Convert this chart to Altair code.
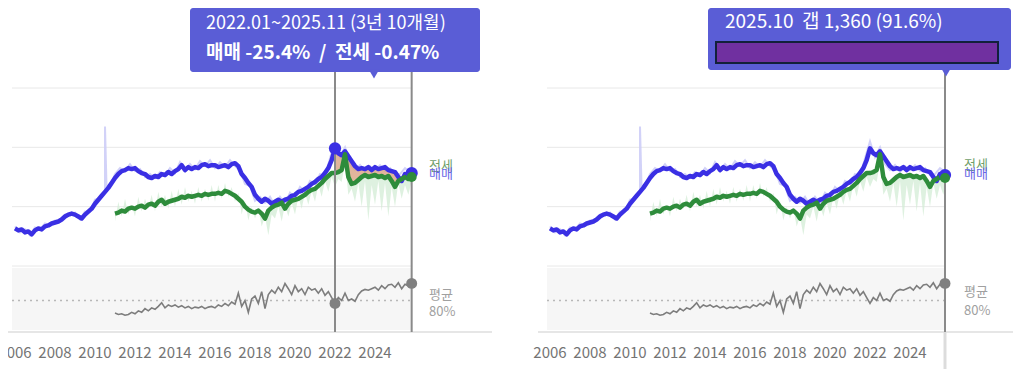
import altair as alt
import pandas as pd
import numpy as np

FONT = "Noto Sans CJK KR"

# ---------------- data ----------------
# bimonthly grid 2006.0 .. 2025.83 (last = 2025.11)
years = [round(2006 + i / 6, 4) for i in range(120)]

# 매매 (sale) index
blue_vals = [
    138, 136, 137, 134, 135, 132,
    136, 138, 137, 140, 141, 143,
    144, 145, 147, 150, 152, 153,
    152, 150, 148, 152, 155, 158,
    163, 167, 171, 175, 179, 184,
    189, 193, 196, 197, 199, 198,
    199, 196, 194, 193, 190, 189,
    191, 190, 193, 192, 195, 193,
    196, 198, 202, 197, 200, 198,
    200, 199, 202, 203, 201, 202,
    202, 200, 201, 202, 200, 203,
    204, 201, 193, 189, 184, 180,
    172, 168, 165, 168, 166, 163,
    165, 167, 165, 167, 168, 171,
    172, 175, 176, 178, 180, 183,
    185, 188, 190, 194, 199, 207,
    219, 214, 212, 216, 211, 206,
    201, 198, 199, 198, 200, 197,
    200, 198, 199, 200, 197, 196,
    195, 190, 186, 193, 190, 194,
]

# 전세 (jeonse) index from 2011.0
green_vals = [
    153, 154, 156, 155, 158, 159,
    158, 160, 161, 159, 162, 163,
    161, 165, 167, 163, 165, 166,
    167, 168, 170, 169, 171, 170,
    171, 172, 171, 173, 172, 173,
    173, 174, 173, 176, 175, 173,
    171, 168, 165, 160, 157, 155,
    154, 156, 153, 148, 156, 159,
    161, 162, 164, 158, 163, 166,
    167, 168, 170, 172, 175, 177,
    178, 181, 184, 188, 191, 194,
    194, 195, 197, 213, 190, 183,
    184, 187, 190, 192, 190, 191,
    192, 190, 191, 189, 191, 186,
    180, 186, 188, 190, 188, 190,
]

# light raw 매매 series (quarterly 2006.0..2025.75) and its spike
q_years = [2006 + 0.25 * i for i in range(80)]
blue_raw_vals = [
    140, 134, 137, 131,  139, 137, 143, 141,  146, 145, 152, 151,  154, 147, 155, 155,
    167, 168, 176, 180,  193, 199, 196, 203,  196, 198, 190, 193,  189, 195, 191, 199,
    194, 205, 196, 203,  198, 206, 201, 207,  199, 205, 200, 207,  201, 197, 183, 181,
    166, 170, 164, 170,  161, 170, 163, 174,  169, 180, 175, 186,  183, 193, 190, 209,
    226, 210, 220, 203,  197, 202, 195, 201,  197, 202, 196, 199,  192, 193, 199, 195,
]
spike_x = [2010.42, 2010.5, 2010.58]
spike_y = [172, 241, 177]

# light raw 전세 series (bimonthly from 2011.0)
green_raw_vals = [
    145, 165, 150, 168, 152, 162,
    150, 170, 155, 168, 158, 172,
    155, 175, 160, 172, 158, 176,
    160, 178, 162, 180, 165, 176,
    163, 180, 165, 178, 166, 182,
    165, 182, 168, 184, 170, 180,
    165, 174, 152, 166, 146, 160,
    148, 158, 140, 150, 131, 152,
    148, 160, 145, 162, 150, 164,
    152, 170, 158, 174, 162, 176,
    165, 182, 170, 186, 175, 190,
    180, 188, 185, 205, 172, 178,
    165, 184, 160, 186, 146, 182,
    162, 186, 155, 184, 150, 180,
    160, 184, 168, 182, 172, 186,
]

# 전세가율 (%) lower panel, bimonthly from 2011.0
gap_vals = [
    71.5, 70.5, 71, 70, 70.5, 72,   71, 73, 72, 74.5, 73, 75,
    74, 76, 78.5, 75, 77, 76,       77, 75.5, 76.5, 75, 76, 74.5,
    75.5, 75, 76, 74.5, 75.5, 76,   75, 77, 76, 78, 76.5, 79,
    77.5, 85, 76, 80, 72, 81,       83, 78, 86, 74.5, 84, 87,
    85, 89, 86, 91.5, 88, 84,       90, 86, 88, 84, 89, 87,
    88, 85, 88, 83.5, 86, 82,       78, 82, 80, 85, 80, 81,
    79.5, 84, 86.5, 87.5, 87, 88,   89, 87, 90, 88, 90.5, 91,
    89, 92, 88, 91, 90, 91.6,
]

tick_years = [2006, 2008, 2010, 2012, 2014, 2016, 2018, 2020, 2022, 2024]
grid_vals = [100, 160, 220, 280]
avg_ratio = 80
span = (2005.85, 2025.8)

left_marks = [2022.0, years[-1]]
right_mark = 2025.75

# ---------------- frames ----------------
df_blue = pd.DataFrame({"x": years, "v": blue_vals})
df_green = pd.DataFrame({"x": years[30:], "v": green_vals})
df_braw = pd.DataFrame({"x": q_years + spike_x, "v": blue_raw_vals + spike_y}).sort_values("x")
df_graw = pd.DataFrame({"x": years[30:], "v": green_raw_vals, "m": green_vals})
df_gap = pd.DataFrame({"x": years[30:], "r": gap_vals})
df_grid = pd.DataFrame({"v": grid_vals, "x0": span[0], "x1": span[1]})
df_band = pd.DataFrame({"x0": [span[0]], "x1": [span[1]]})
df_avg = pd.DataFrame({"r": [avg_ratio], "x0": [span[0]], "x1": [span[1] + 0.1]})
df_ticks = pd.DataFrame({"x": tick_years, "t": [str(y) for y in tick_years]})
df_one = pd.DataFrame({"a": [0]})

mrg = df_blue.merge(df_green, on="x", suffixes=("_b", "_g"))
df_fill = mrg[(mrg.x >= left_marks[0] - 1e-6) & (mrg.x <= left_marks[1] + 1e-6)]

BLUE = "#3a2fe4"
GREEN = "#2e8c3b"
GRAY = "#8a8a8a"
BOX = "#5a5dd6"
LABEL = "#747474"

price_scale = alt.Scale(domain=[100, 280], range=[258, 80], nice=False, zero=False)
gap_scale = alt.Scale(domain=[60, 100], range=[322, 263], nice=False, zero=False)


def P(field):
    return alt.Y(f"{field}:Q", scale=price_scale, axis=None)


def G(field):
    return alt.Y(f"{field}:Q", scale=gap_scale, axis=None)


def text_layer(txt, x, y, color, size, weight="normal", align="left"):
    return alt.Chart(df_one).mark_text(
        align=align, baseline="middle", font=FONT, fontSize=size, fontWeight=weight, color=color
    ).encode(x=alt.value(x), y=alt.value(y), text=alt.value(txt))


NB = "\u00a0"


def panel(domain, rng, side):
    xs = alt.Scale(domain=domain, range=rng, nice=False, zero=False)

    def X(field):
        return alt.X(f"{field}:Q", scale=xs, axis=None, title=None)

    L = []
    # lower band
    L.append(alt.Chart(df_band).mark_rect(color="#f6f6f6").encode(
        x=X("x0"), x2="x1:Q", y=alt.value(260), y2=alt.value(322)))
    # x axis: baseline and year labels placed through the x scale
    L.append(alt.Chart(df_one).mark_rule(color="#e6e6e6", strokeWidth=2).encode(
        x=alt.value(rng[0]), x2=alt.value(rng[1]), y=alt.value(324)))
    L.append(alt.Chart(df_ticks).mark_text(
        font=FONT, fontSize=15, color=LABEL, baseline="middle", align="center").encode(
        x=X("x"), y=alt.value(345), text="t:N"))
    # grid lines
    L.append(alt.Chart(df_grid).mark_rule(color="#e8e8e8", strokeWidth=1).encode(
        x=X("x0"), x2="x1:Q", y=P("v")))
    # average dotted line
    L.append(alt.Chart(df_avg).mark_rule(color="#b8b8b8", strokeWidth=1.5, strokeDash=[2, 4]).encode(
        x=X("x0"), x2="x1:Q", y=G("r")))
    # raw light series
    L.append(alt.Chart(df_graw).mark_area(color="#d3ecd5", opacity=0.75).encode(
        x=X("x"), y=P("v"), y2="m:Q"))
    L.append(alt.Chart(df_braw).mark_line(color="#cdcdf7", strokeWidth=2, opacity=0.9).encode(
        x=X("x"), y=P("v")))
    if side == "left":
        L.append(alt.Chart(df_fill).mark_area(color="#d9a283", opacity=0.8).encode(
            x=X("x"), y=P("v_b"), y2="v_g:Q"))
    # main lines
    L.append(alt.Chart(df_blue).mark_line(color=BLUE, strokeWidth=4.5, strokeJoin="round").encode(
        x=X("x"), y=P("v")))
    L.append(alt.Chart(df_green).mark_line(color=GREEN, strokeWidth=4.5, strokeJoin="round").encode(
        x=X("x"), y=P("v")))
    # ratio line
    L.append(alt.Chart(df_gap).mark_line(color="#7d7d7d", strokeWidth=1.6).encode(
        x=X("x"), y=G("r")))

    if side == "left":
        marks = left_marks
        df_v = pd.DataFrame({"x": marks})
        L.append(alt.Chart(df_v).mark_rule(color=GRAY, strokeWidth=2).encode(
            x=X("x"), y=alt.value(64), y2=alt.value(324)))
    else:
        marks = [right_mark]
        df_v = pd.DataFrame({"x": marks})
        L.append(alt.Chart(df_v).mark_rule(color="#dcdcdc", strokeWidth=3).encode(
            x=X("x"), y=alt.value(324), y2=alt.value(369)))
        L.append(alt.Chart(df_v).mark_rule(color=GRAY, strokeWidth=2).encode(
            x=X("x"), y=alt.value(62), y2=alt.value(324)))

    # dots derived from data
    bx = df_blue.x.to_numpy(); bv = df_blue.v.to_numpy()
    gx = df_green.x.to_numpy(); gv = df_green.v.to_numpy()
    rx = df_gap.x.to_numpy(); rv = df_gap.r.to_numpy()
    if side == "left":
        dots_b = pd.DataFrame({"x": marks, "v": np.interp(marks, bx, bv)})
        dots_g = pd.DataFrame({"x": [marks[1]], "v": np.interp([marks[1]], gx, gv)})
        dots_r = pd.DataFrame({"x": marks, "r": np.interp(marks, rx, rv)})
    else:
        dots_b = pd.DataFrame({"x": marks, "v": np.interp(marks, bx, bv)})
        dots_g = pd.DataFrame({"x": marks, "v": np.interp(marks, gx, gv)})
        dots_r = pd.DataFrame({"x": marks, "r": [gap_vals[-1]]})
    L.append(alt.Chart(dots_b).mark_circle(color=BLUE, size=150, opacity=1).encode(x=X("x"), y=P("v")))
    L.append(alt.Chart(dots_g).mark_circle(color=GREEN, size=100, opacity=1).encode(x=X("x"), y=P("v")))
    L.append(alt.Chart(dots_r).mark_circle(color="#808080", size=120, opacity=1).encode(x=X("x"), y=G("r")))

    if side == "left":
        lx = 421
        L.append(text_layer("전세", lx, 158, "#6f9e6a", 13))
        L.append(text_layer("매매", lx, 166, "#6767e6", 13))
        L.append(text_layer("평균", lx, 287, "#a0a0a0", 13))
        L.append(text_layer("80%", lx, 304, "#a0a0a0", 13))
        # tooltip
        L.append(alt.Chart(df_one).mark_rect(color=BOX, cornerRadius=3).encode(
            x=alt.value(182), x2=alt.value(472), y=alt.value(0), y2=alt.value(64)))
        L.append(alt.Chart(df_one).mark_point(shape="triangle-down", filled=True, color=BOX,
                                              size=110, opacity=1).encode(
            x=alt.value(366), y=alt.value(66)))
        L.append(text_layer("2022.01~2025.11 (3년 10개월)", 198, 16, "white", 18))
        L.append(text_layer(f"매매 -25.4%{NB}{NB}/{NB}{NB}전세 -0.47%", 198, 45, "white", 19,
                            weight="bold"))
    else:
        lx = 956
        L.append(text_layer("전세", lx, 157, "#6f9e6a", 13))
        L.append(text_layer("매매", lx, 166, "#6767e6", 13))
        L.append(text_layer("평균", lx, 284, "#a0a0a0", 13))
        L.append(text_layer("80%", lx, 303, "#a0a0a0", 13))
        L.append(alt.Chart(df_one).mark_rect(color=BOX, cornerRadius=3).encode(
            x=alt.value(700), x2=alt.value(1003), y=alt.value(0), y2=alt.value(62)))
        L.append(alt.Chart(df_one).mark_point(shape="triangle-down", filled=True, color=BOX,
                                              size=110, opacity=1).encode(
            x=alt.value(938), y=alt.value(64)))
        L.append(text_layer(f"2025.10{NB}{NB}갭 1,360 (91.6%)", 717, 14, "white", 19))
        L.append(alt.Chart(df_one).mark_rect(color="#7030a0", stroke="#12203a", strokeWidth=2).encode(
            x=alt.value(708), x2=alt.value(990), y=alt.value(34), y2=alt.value(55)))
    return L


layers = panel([2005.65, 2029.85], [0, 484], "left") + panel([2005.4, 2029.15], [530, 1005], "right")

chart = alt.layer(*layers).resolve_scale(x="independent", y="independent").properties(
    width=1005, height=324,
    autosize=alt.AutoSizeParams(type="none"),
    padding={"left": 0, "top": 0, "right": 0, "bottom": 37},
).configure_view(stroke=None)

chart.save("out.html", embed_options={"renderer": "svg", "actions": False})
